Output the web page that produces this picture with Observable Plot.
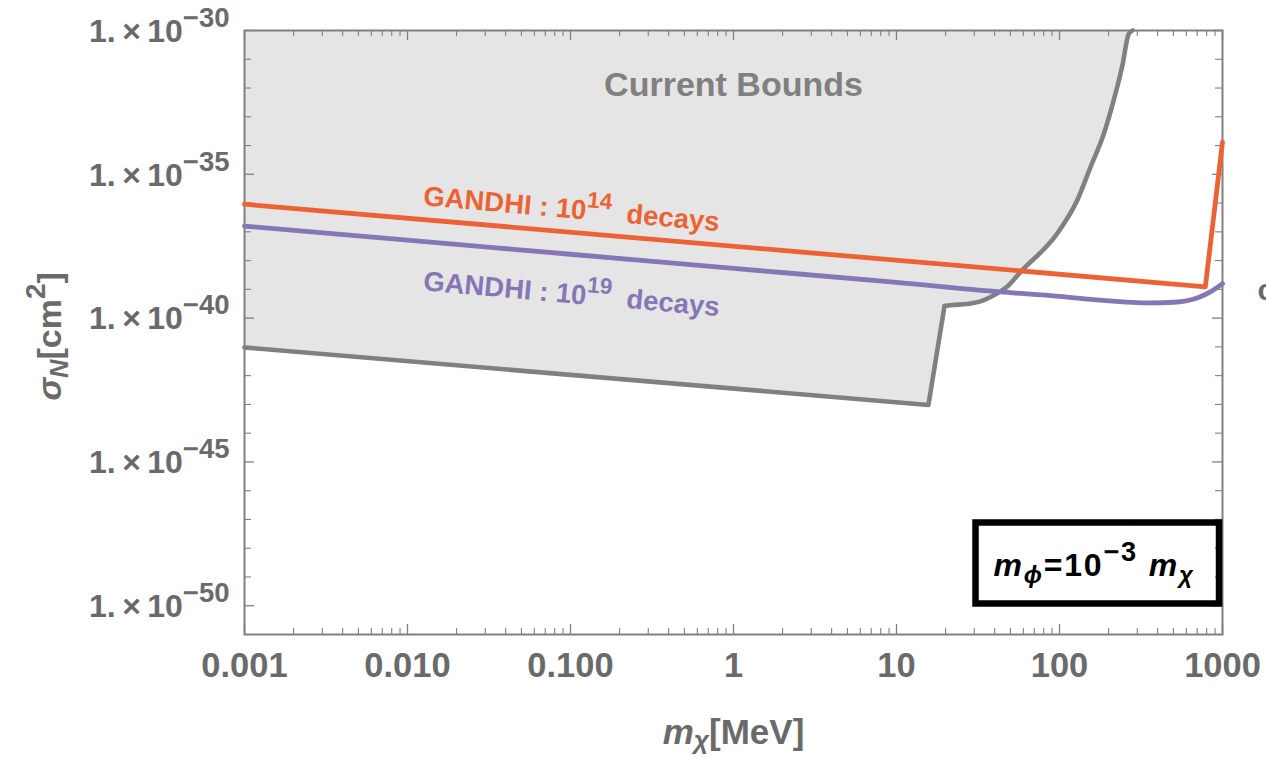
<!DOCTYPE html>
<html><head><meta charset="utf-8">
<script src="https://cdn.jsdelivr.net/npm/d3@7"></script>
<script src="https://cdn.jsdelivr.net/npm/@observablehq/plot@0.6"></script>
<style>
body{margin:0;background:#fff;overflow:hidden}
#chart svg{display:block;overflow:hidden}
</style>
</head><body><div id="chart"></div>
<script>
// ---- data (m_chi in MeV, sigma_N in cm^2) ----
const boundMass  = [0.001, 15.7, 19.7, 21.5, 27.2, 34.4, 41.5, 47.7, 57.7, 96.8, 128.5, 155, 187, 215, 242, 266, 281];
const boundSigma = [9.55e-42, 9.55e-44, 2.63e-40, 2.82e-40, 3.09e-40, 4.22e-40, 7.24e-40, 1.23e-39, 4.07e-39, 8.71e-38, 1.26e-36, 1.78e-35, 2.57e-34, 3.72e-33, 5.37e-32, 7.59e-31, 1e-30];
const g14Mass  = [0.001, 785, 1000];
const g14Sigma = [9.12e-37, 1.23e-39, 1.32e-34];
const g19Mass  = [0.001, 0.01, 0.1, 1, 10, 43.4, 100, 178, 361, 528, 731, 842, 1000];
const g19Sigma = [1.585e-37, 5.13e-38, 1.66e-38, 5.37e-39, 1.74e-39, 8.13e-40, 5.75e-40, 4.22e-40, 3.39e-40, 3.63e-40, 5.5e-40, 8.13e-40, 1.585e-39];
const xTicks = [0.001, 0.01, 0.1, 1, 10, 100, 1000];
const xTickLabels = ["0.001", "0.010", "0.100", "1", "10", "100", "1000"];
const yTicks = [1e-50, 1e-45, 1e-40, 1e-35, 1e-30];
const yTickLabels = ["1.\u2009×\u200910^{−50}", "1.\u2009×\u200910^{−45}", "1.\u2009×\u200910^{−40}", "1.\u2009×\u200910^{−35}", "1.\u2009×\u200910^{−30}"];
const xDomain = [1e-3, 1e3];
const yDomain = [1e-51, 1e-30];
const boundText = [{x: 1, y: 1.3e-32, text: "Current Bounds"}];
const g14Text = [{x: 0.0124, y: 8.4e-37, text: "GANDHI : 10^{14}\u00a0\u00a0decays"}];
const g19Text = [{x: 0.0124, y: 9.3e-40, text: "GANDHI : 10^{19}\u00a0\u00a0decays"}];
const boxText = "*m*_{ϕ}=10^{−3} *m*_{χ}";
const xLabel = "*m*_{χ}[MeV]";
const yLabel = "*σ*_{N}[cm^{2}]";

// ---- derived tables ----
const bound = boundMass.map((x, i) => ({x, y: boundSigma[i]}));
const kink = 2; // index of the top of the vertical jump: straight segments before, smooth curve after
const boundLow = bound.slice(0, kink + 1), boundHigh = bound.slice(kink);
const g14 = g14Mass.map((x, i) => ({x, y: g14Sigma[i]}));
const g19 = g19Mass.map((x, i) => ({x, y: g19Sigma[i]}));
const xMinor = [];
for (let e = -3; e < 3; e++) for (let k = 2; k <= 9; k++) xMinor.push(k * Math.pow(10, e));
const yMinor = [];
for (let e = -50; e <= -31; e++) if (e % 5 !== 0) yMinor.push(Math.pow(10, e));

const W = 1266, H = 757, mL = 244, mR = 44, mT = 30, mB = 123;
const pW = W - mL - mR, pH = H - mT - mB;
const gray = "#808080", label = "#6a6a6a", orange = "#ec6234", purple = "#8676b6";

const chart = Plot.plot({
  width: W, height: H,
  marginLeft: mL, marginRight: mR, marginTop: mT, marginBottom: mB,
  style: {fontFamily: "'Liberation Sans', Arial, sans-serif", background: "#fff"},
  x: {type: "log", domain: xDomain},
  y: {type: "log", domain: yDomain},
  marks: [
    Plot.areaY(boundLow, {x: "x", y1: "y", y2: yDomain[1], fill: "#e5e5e5"}),
    Plot.areaY(boundHigh, {x: "x", y1: "y", y2: yDomain[1], fill: "#e5e5e5", curve: "monotone-x"}),
    Plot.frame({stroke: gray, strokeWidth: 2}),
    // inward ticks on all four sides
    Plot.tickX(xTicks, {x: d => d, stroke: gray, strokeWidth: 1.3, insetTop: pH - 10}),
    Plot.tickX(xMinor, {x: d => d, stroke: gray, strokeWidth: 1.1, insetTop: pH - 6}),
    Plot.tickX(xTicks, {x: d => d, stroke: gray, strokeWidth: 1.3, insetBottom: pH - 10}),
    Plot.tickX(xMinor, {x: d => d, stroke: gray, strokeWidth: 1.1, insetBottom: pH - 6}),
    Plot.tickY(yTicks, {y: d => d, stroke: gray, strokeWidth: 1.3, insetRight: pW - 10}),
    Plot.tickY(yMinor, {y: d => d, stroke: gray, strokeWidth: 1.1, insetRight: pW - 7}),
    Plot.tickY(yTicks, {y: d => d, stroke: gray, strokeWidth: 1.3, insetLeft: pW - 10}),
    Plot.tickY(yMinor, {y: d => d, stroke: gray, strokeWidth: 1.1, insetLeft: pW - 7}),
    Plot.line(boundLow, {x: "x", y: "y", stroke: gray, strokeWidth: 4.6}),
    Plot.line(boundHigh, {x: "x", y: "y", stroke: gray, strokeWidth: 4.6, curve: "monotone-x"}),
    Plot.line(g14, {x: "x", y: "y", stroke: orange, strokeWidth: 4.8}),
    Plot.line(g19, {x: "x", y: "y", stroke: purple, strokeWidth: 4.8, curve: "monotone-x"}),
    Plot.text(boundText, {x: "x", y: "y", text: "text", fill: gray, fontSize: 34, fontWeight: "bold"}),
    Plot.text(g14Text, {x: "x", y: "y", text: "text", fill: orange, fontSize: 27.5, fontWeight: "bold", textAnchor: "start", lineAnchor: "bottom", rotate: 5}),
    Plot.text(g19Text, {x: "x", y: "y", text: "text", fill: purple, fontSize: 27.5, fontWeight: "bold", textAnchor: "start", lineAnchor: "bottom", rotate: 5}),
    // annotation box
    Plot.frame({stroke: "#000", strokeWidth: 6.5, insetLeft: 731, insetRight: 3.5, insetTop: 492, insetBottom: 31}),
    Plot.text([boxText], {frameAnchor: "bottom-right", dx: -229, dy: -59, textAnchor: "start", lineAnchor: "bottom", fill: "#000", fontSize: 32, fontWeight: "bold"}),
    // axis titles
    Plot.text([yLabel], {frameAnchor: "left", dx: -184, dy: 68, rotate: -90, textAnchor: "start", lineAnchor: "bottom", fill: label, fontSize: 34, fontWeight: "bold"}),
    Plot.text([xLabel], {frameAnchor: "bottom", dy: 109, lineAnchor: "bottom", fill: label, fontSize: 35, fontWeight: "bold"}),
    Plot.text(["c"], {frameAnchor: "right", dx: 35, dy: -42, textAnchor: "start", fill: label, fontSize: 30, fontWeight: "bold"}),
    // tick labels
    Plot.axisX({ticks: xTicks, tickFormat: d => xTickLabels[xTicks.indexOf(d)], tickSize: 0, tickPadding: 18, fontSize: 34.5, fontWeight: "bold", color: label, label: null}),
    Plot.axisY({ticks: yTicks, tickFormat: d => yTickLabels[yTicks.indexOf(d)], tickSize: 0, tickPadding: 15, fontSize: 32, fontWeight: "bold", color: label, label: null, dy: 1})
  ]
});
document.getElementById("chart").appendChild(chart);

// ---- rich text (super/subscripts, italics) ----
const NS = "http://www.w3.org/2000/svg";
function richify(el, markup, base, o = {}) {
  const supSize = base * (o.sup ?? 0.82), subSize = base * (o.sub ?? 0.75);
  const supShift = base * (o.supShift ?? 0.45), subShift = base * (o.subShift ?? 0.22);
  el.textContent = "";
  if (o.spacing) el.setAttribute("letter-spacing", o.spacing);
  const re = /\^\{([^}]*)\}|_\{([^}]*)\}|\*([^*]*)\*|([^\^_*]+)/g;
  let m, cur = 0;
  while ((m = re.exec(markup))) {
    const ts = document.createElementNS(NS, "tspan");
    let target = 0, txt, size = null, italic = false;
    if (m[1] != null) { target = -supShift; txt = m[1]; size = supSize; }
    else if (m[2] != null) { target = subShift; txt = m[2]; size = subSize; italic = true; }
    else if (m[3] != null) { txt = m[3]; italic = true; }
    else txt = m[4];
    if (target !== cur) ts.setAttribute("dy", (target - cur).toFixed(2));
    cur = target;
    if (size) ts.setAttribute("font-size", size.toFixed(1));
    if (italic) ts.setAttribute("font-style", "italic");
    ts.textContent = txt;
    el.appendChild(ts);
  }
}
const rich = new Map([
  [g14Text[0].text, [27.5, {}]], [g19Text[0].text, [27.5, {}]],
  [boxText, [32, {sup: 0.85, spacing: 1.8}]], [xLabel, [35, {subShift: 0.16}]], [yLabel, [34, {}]]
]);
chart.querySelectorAll("text").forEach(t => {
  const s = t.textContent;
  if (rich.has(s)) richify(t, s, ...rich.get(s));
  else if (yTickLabels.includes(s)) richify(t, s, 32, {sup: 0.86, supShift: 0.47});
});
</script>
</body></html>
